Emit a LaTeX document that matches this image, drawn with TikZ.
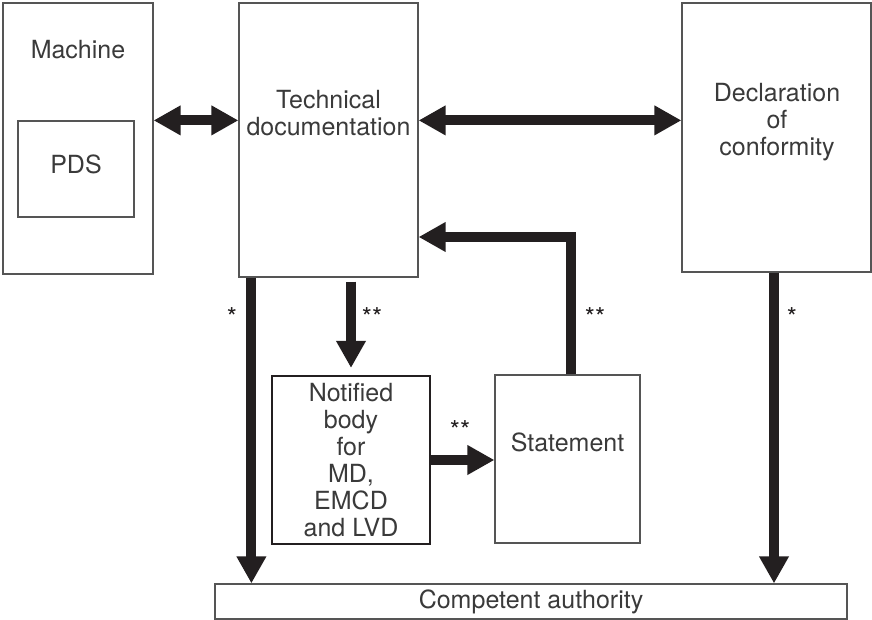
\documentclass[tikz,border=0pt]{standalone}
\usepackage{fontspec}
\setmainfont{TeX Gyre Heros}
\usetikzlibrary{arrows.meta,calc}
\definecolor{ink}{HTML}{231F20}
\definecolor{boxline}{HTML}{555555}
\definecolor{txt}{HTML}{3A3A3A}
\begin{document}
\begin{tikzpicture}[x=1pt,y=-1pt,
  box/.style={draw=boxline,line width=1.2pt,inner sep=0pt},
  thickbox/.style={draw=ink,line width=2.2pt,inner sep=0pt},
  lbl/.style={text=txt,font=\fontsize{25}{27}\selectfont,align=center,inner sep=0pt},
  star/.style={text=ink,font=\fontsize{26}{26}\selectfont,inner sep=0pt,anchor=north},
  bigarrow/.style={draw=ink,line width=10pt,line join=miter,-{Triangle[length=27pt,width=28pt]}},
  dblarrow/.style={draw=ink,line width=10pt,{Triangle[length=27pt,width=28pt]}-{Triangle[length=27pt,width=28pt]}}
]
\useasboundingbox (0,0) rectangle (872,620);
% boxes
\node[box,minimum width=150pt,minimum height=271pt] (machine) at (78,138.5) {};
\node[box,minimum width=116pt,minimum height=96pt] (pds) at (76,169) {};
\node[box,minimum width=179pt,minimum height=274pt] (tech) at (328.5,140) {};
\node[box,minimum width=189pt,minimum height=269pt] (decl) at (776.5,137.5) {};
\node[thickbox,minimum width=158pt,minimum height=168pt] (notified) at (351,460) {};
\node[box,minimum width=145pt,minimum height=168pt] (statement) at (567.5,459) {};
\node[box,minimum width=632pt,minimum height=35pt] (comp) at (531,601.5) {};
% texts
\node[lbl] (tmachine) at (78,50) {Machine};
\node[lbl] (tpds) at (76,164) {PDS};
\node[lbl] (ttech) at (328.5,113) {Technical\\documentation};
\node[lbl] (tdecl) at (777,122) {Declaration\\of\\conformity};
\node[lbl] (tnot) at (351,460) {Notified\\body\\for\\MD,\\EMCD\\and LVD};
\node[lbl] (tstat) at (567.5,442) {Statement};
\node[lbl] (tcomp) at (531,602) {Competent authority};
% helper coordinates
\coordinate (L) at ($(tech.south west)+(13,0)$);
\coordinate (M) at ($(notified.north |- tech.south)+(0,4)$);
\coordinate (Mend) at ($(notified.north)+(0,-7)$);
\coordinate (S) at ($(statement.north)+(3.5,0)$);
\coordinate (T) at ($(tech.east)+(0,97)$);
\coordinate (R) at ($(decl.south)+(-2.5,0)$);
% connectors
\draw[dblarrow] (machine.east |- pds.north) -- (tech.west |- pds.north);
\draw[dblarrow] (tech.east |- pds.north) -- (decl.west |- pds.north);
\draw[bigarrow] (L) -- (L |- comp.north);
\draw[bigarrow] (M) -- (Mend);
\draw[bigarrow] (notified.east) -- (statement.west |- notified.east);
\draw[bigarrow] (S) |- (T);
\draw[bigarrow] (R) -- (R |- comp.north);
% stars
\node[star] (s1) at (232,307) {*};
\node[star] (s2) at (372,307) {**};
\node[star] (s3) at (595,307) {**};
\node[star] (s4) at (792,307) {*};
\node[star] (s5) at (460,420) {**};
\end{tikzpicture}
\end{document}
